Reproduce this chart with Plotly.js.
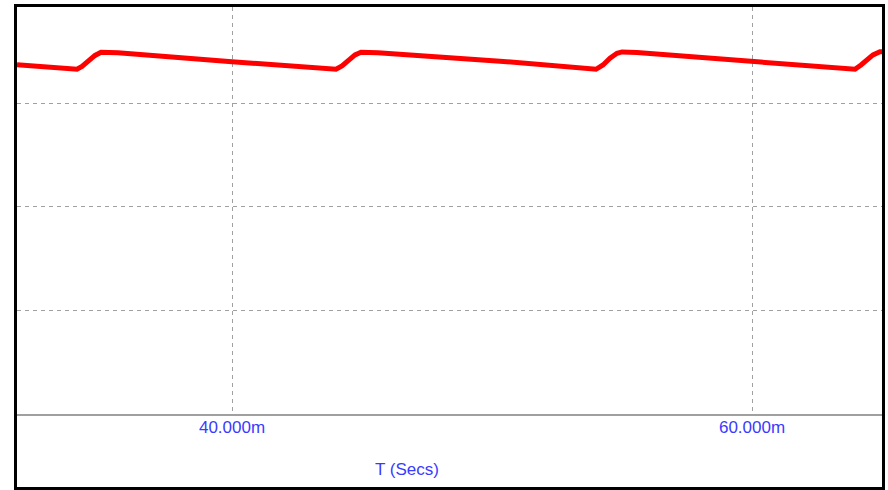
<!DOCTYPE html>
<html>
<head>
<meta charset="utf-8">
<script src="https://cdn.plot.ly/plotly-3.0.1.min.js"></script>
<style>
  html, body { margin: 0; padding: 0; background: #ffffff; }
  #chart { width: 888px; height: 490px; }
</style>
</head>
<body>
<div id="chart"></div>
<script>
// Time in milliseconds
const timeMs = [
  31.731, 33.923, 34.038, 34.231, 34.462, 34.731, 34.962, 35.615, 40.000,
  43.846, 44.000, 44.231, 44.462, 44.731, 44.962, 45.615, 50.308,
  53.846, 54.000, 54.269, 54.538, 54.808, 55.000, 55.577, 60.000,
  63.808, 63.962, 64.192, 64.423, 64.654, 64.923, 65.115
];
// Signal value (arbitrary units, 10 per grid division)
const signal = [
  33.75, 33.37, 33.30, 33.57, 34.11, 34.64, 34.95, 34.90, 34.04,
  33.37, 33.30, 33.62, 34.15, 34.69, 34.95, 34.90, 34.09,
  33.37, 33.30, 33.72, 34.37, 34.85, 34.98, 34.92, 34.04,
  33.37, 33.30, 33.72, 34.20, 34.69, 34.99, 35.02
];
const xTickVals = [40, 60];
const xTickText = ['40.000m', '60.000m'];
const yGridVals = [10, 20, 30];
const axisTitle = 'T (Secs)';

const trace = {
  x: timeMs,
  y: signal,
  type: 'scatter',
  mode: 'lines',
  line: { color: '#ff0000', width: 5 },
  hoverinfo: 'skip'
};

const blue = '#3a3aff';
const layout = {
  width: 888,
  height: 490,
  margin: { l: 17, r: 6, t: 7, b: 76, pad: 0 },
  paper_bgcolor: '#ffffff',
  plot_bgcolor: '#ffffff',
  showlegend: false,
  font: { family: 'Liberation Sans, Arial, sans-serif', size: 17, color: blue },
  xaxis: {
    range: [31.731, 65.0],
    tickmode: 'array',
    tickvals: xTickVals,
    ticktext: xTickText,
    ticks: '',
    ticklabelstandoff: -3,
    showgrid: true,
    gridcolor: '#a0a0a0',
    gridwidth: 1,
    griddash: '4px,4px',
    zeroline: false,
    showline: true,
    linecolor: '#a0a0a0',
    linewidth: 2,
    tickfont: { family: 'Liberation Sans, Arial, sans-serif', size: 17, color: blue },
    fixedrange: true
  },
  yaxis: {
    range: [0, 39.32],
    tickmode: 'array',
    tickvals: yGridVals,
    showticklabels: false,
    ticks: '',
    showgrid: true,
    gridcolor: '#a0a0a0',
    gridwidth: 1,
    griddash: '4px,4px',
    zeroline: false,
    showline: false,
    fixedrange: true
  },
  annotations: [{
    text: axisTitle,
    xref: 'paper', yref: 'paper',
    x: 0.4509, y: -0.1359,
    xanchor: 'center', yanchor: 'middle',
    showarrow: false,
    font: { family: 'Liberation Sans, Arial, sans-serif', size: 17, color: blue }
  }],
  shapes: [{
    type: 'rect',
    xref: 'paper', yref: 'paper',
    x0: -0.00173, x1: 1.00173,
    y0: -0.18305, y1: 1.00369,
    line: { color: '#000000', width: 3 },
    fillcolor: 'rgba(0,0,0,0)',
    layer: 'above'
  }]
};

Plotly.newPlot('chart', [trace], layout, { displayModeBar: false, staticPlot: true });
</script>
</body>
</html>
